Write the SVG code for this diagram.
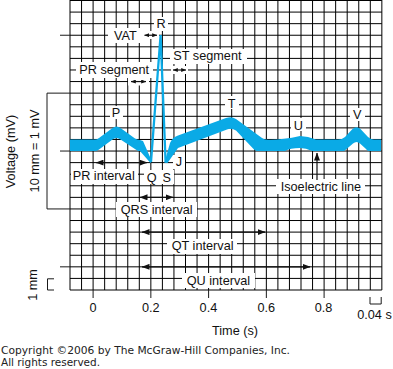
<svg xmlns="http://www.w3.org/2000/svg" width="393" height="369" viewBox="0 0 393 369">
<style>
.grid{fill:none;stroke:#000;stroke-width:1}
.ax{fill:none;stroke:#1a1a1a;stroke-width:1}
.bg{fill:#fff}
.lbl{font-family:"Liberation Sans",Arial,sans-serif;font-size:12.7px;fill:#111}
.mid{text-anchor:middle}
.arr{fill:none;stroke:#111;stroke-width:1.2}
.band{fill:#0aaae6}
.spike{fill:none;stroke:#0aaae6;stroke-width:2.3;stroke-linejoin:miter}
.copy{font-family:"DejaVu Sans",Verdana,sans-serif;font-size:10px;fill:#222}
</style>
<defs>
<marker id="ah" viewBox="0 0 8 6" refX="7.5" refY="3" markerWidth="8" markerHeight="6" markerUnits="userSpaceOnUse" orient="auto-start-reverse"><path d="M0,0 L8,3 L0,6 z" fill="#111"/></marker>
<marker id="as" viewBox="0 0 5 4" refX="4.8" refY="2" markerWidth="5" markerHeight="4" markerUnits="userSpaceOnUse" orient="auto-start-reverse"><path d="M0,0 L5,2 L0,4 z" fill="#111"/></marker>
</defs>
<rect width="393" height="369" fill="#fff"/>
<g id="grid">
<path class="grid" d="M70 0.5H381.85M70 12.08H381.85M70 23.66H381.85M70 35.24H381.85M70 46.82H381.85M70 58.4H381.85M70 69.98H381.85M70 81.56H381.85M70 93.14H381.85M70 104.72H381.85M70 116.3H381.85M70 127.88H381.85M70 139.46H381.85M70 151.04H381.85M70 162.62H381.85M70 174.2H381.85M70 185.78H381.85M70 197.36H381.85M70 208.94H381.85M70 220.52H381.85M70 232.1H381.85M70 243.68H381.85M70 255.26H381.85M70 266.84H381.85M70 278.42H381.85M70 290H381.85"/>
<path class="grid" d="M70 0V290M81.55 0V290M93.1 0V290M104.65 0V290M116.2 0V290M127.75 0V290M139.3 0V290M150.85 0V290M162.4 0V290M173.95 0V290M185.5 0V290M197.05 0V290M208.6 0V290M220.15 0V290M231.7 0V290M243.25 0V290M254.8 0V290M266.35 0V290M277.9 0V290M289.45 0V290M301 0V290M312.55 0V290M324.1 0V290M335.65 0V290M347.2 0V290M358.75 0V290M370.3 0V290M381.85 0V290"/>
</g>
<g id="axes">
<path class="ax" d="M60 35.24H70M47 93.14H70M60 151.04H70M47 208.94H70M60 266.84H70M47 93.14V208.94M54 278.8H47.5V290H54"/>
<path class="ax" d="M93.1 290V298M150.85 290V298M208.6 290V298M266.35 290V298M324.1 290V298M370 297V304H381.2V297"/>
<text class="lbl mid" transform="translate(15,151.5) rotate(-90)">Voltage (mV)</text>
<text class="lbl mid" transform="translate(39,151) rotate(-90)">10 mm = 1 mV</text>
<text class="lbl mid" transform="translate(37,285) rotate(-90)">1 mm</text>
<text class="lbl mid" x="93" y="312">0</text>
<text class="lbl mid" x="150.8" y="312">0.2</text>
<text class="lbl mid" x="208.4" y="312">0.4</text>
<text class="lbl mid" x="266.2" y="312">0.6</text>
<text class="lbl mid" x="323.6" y="312">0.8</text>
<text class="lbl mid" x="374.5" y="319">0.04 s</text>
<text class="lbl mid" x="235" y="334.5">Time (s)</text>
</g>
<g id="ecg">
<path class="band" d="M70 139.5H95Q97 139.5 99 138L112.5 128Q116.5 125 120.5 128L135 138.5Q137 139.6 140 140L143 141L152 161.5L150.5 163L140 151H138L120.5 139.5Q116.5 136.5 112.5 139.5L99 149.5Q97 151 95 151H70Z"/>
<path class="band" d="M164.5 162.5L170 143Q172 137.5 178 135.5L226 118Q231.5 116 236 119L262 138Q264 139.5 268 139.7Q282 140 300 136Q308 136 316 139.5H338Q342 139.5 345 137L352.5 129Q356.5 125.5 360.5 129L368 137Q371 139.5 374 139.5H381V151H369Q367 151 366 149L360 143.5Q356.5 140.5 353 143.5L346 149.5Q344.5 151 343 151H312Q306 148 300 148Q290 148 285 151H258Q256 151 254 149.5L236 130.5Q231.5 127.5 227 129.5L178 148L167.5 163Z"/>
<polyline class="spike" points="151,162 160.6,35 165.6,162.5"/>
</g>
<g id="label-R"><rect class="bg" x="154" y="17" width="14" height="14"/><text class="lbl mid" x="161" y="28">R</text></g>
<g id="label-VAT"><rect class="bg" x="108" y="28" width="35" height="15"/><text class="lbl" x="114" y="40">VAT</text><rect class="bg" x="142" y="31" width="17" height="8"/></g>
<g id="label-ST"><rect class="bg" x="170" y="49" width="77" height="15"/><text class="lbl" x="173.3" y="60">ST segment</text><rect class="bg" x="171" y="66" width="17" height="8"/></g>
<g id="label-PRseg"><rect class="bg" x="76" y="62" width="77" height="16"/><text class="lbl" x="79.3" y="73.5">PR segment</text><rect class="bg" x="128" y="77.5" width="21" height="8"/></g>
<g id="label-P"><rect class="bg" x="110" y="106" width="13" height="13"/><text class="lbl mid" x="116" y="117">P</text></g>
<g id="label-T"><rect class="bg" x="225" y="96" width="14" height="13"/><text class="lbl mid" x="231.7" y="107.5">T</text></g>
<g id="label-U"><rect class="bg" x="291" y="118" width="15" height="13"/><text class="lbl mid" x="298.3" y="129.5">U</text></g>
<g id="label-V"><rect class="bg" x="350" y="108" width="15" height="13"/><text class="lbl mid" x="357.3" y="119">V</text></g>
<g id="label-J"><rect class="bg" x="173" y="155" width="12" height="14"/><text class="lbl mid" x="179" y="166">J</text></g>
<g id="label-QS"><rect class="bg" x="144" y="170" width="30" height="14"/><text class="lbl mid" x="151.7" y="181.5">Q</text><text class="lbl mid" x="166.7" y="181.5">S</text></g>
<g id="label-PRint"><rect class="bg" x="71" y="169" width="67" height="15"/><text class="lbl" x="72.7" y="180">PR interval</text></g>
<g id="label-QRS"><rect class="bg" x="116" y="202" width="81" height="15"/><text class="lbl" x="120.7" y="213.5">QRS interval</text></g>
<g id="label-iso"><rect class="bg" x="276" y="179" width="89" height="15"/><text class="lbl" x="280.7" y="190.5">Isoelectric line</text></g>
<g id="label-QT"><rect class="bg" x="167" y="239" width="70" height="15"/><text class="lbl" x="171.7" y="250">QT interval</text></g>
<g id="label-QU"><rect class="bg" x="182" y="273" width="73" height="15"/><text class="lbl" x="186.7" y="284.5">QU interval</text></g>
<g id="connectors">
<line class="arr" x1="144.5" y1="35.24" x2="157" y2="35.24" marker-start="url(#as)" marker-end="url(#as)"/>
<line class="arr" x1="173" y1="70" x2="186" y2="70" marker-start="url(#as)" marker-end="url(#as)"/>
<line class="arr" x1="131" y1="81.56" x2="146" y2="81.56" marker-start="url(#as)" marker-end="url(#as)"/>
<line class="arr" x1="96" y1="162.62" x2="147" y2="162.62" marker-start="url(#ah)" marker-end="url(#ah)"/>
<line class="arr" x1="140" y1="197.36" x2="173" y2="197.36" marker-start="url(#ah)" marker-end="url(#ah)"/>
<line class="arr" x1="142" y1="232.1" x2="265" y2="232.1" marker-start="url(#ah)" marker-end="url(#ah)"/>
<line class="arr" x1="142" y1="266.84" x2="310" y2="266.84" marker-start="url(#ah)" marker-end="url(#ah)"/>
<line class="arr" x1="317" y1="180" x2="317" y2="153" marker-end="url(#ah)"/>
</g>
<g id="copyright">
<text class="copy" x="1" y="354" textLength="289" lengthAdjust="spacingAndGlyphs">Copyright ©2006 by The McGraw-Hill Companies, Inc.</text>
<text class="copy" x="1" y="366" textLength="99" lengthAdjust="spacingAndGlyphs">All rights reserved.</text>
</g>
</svg>
